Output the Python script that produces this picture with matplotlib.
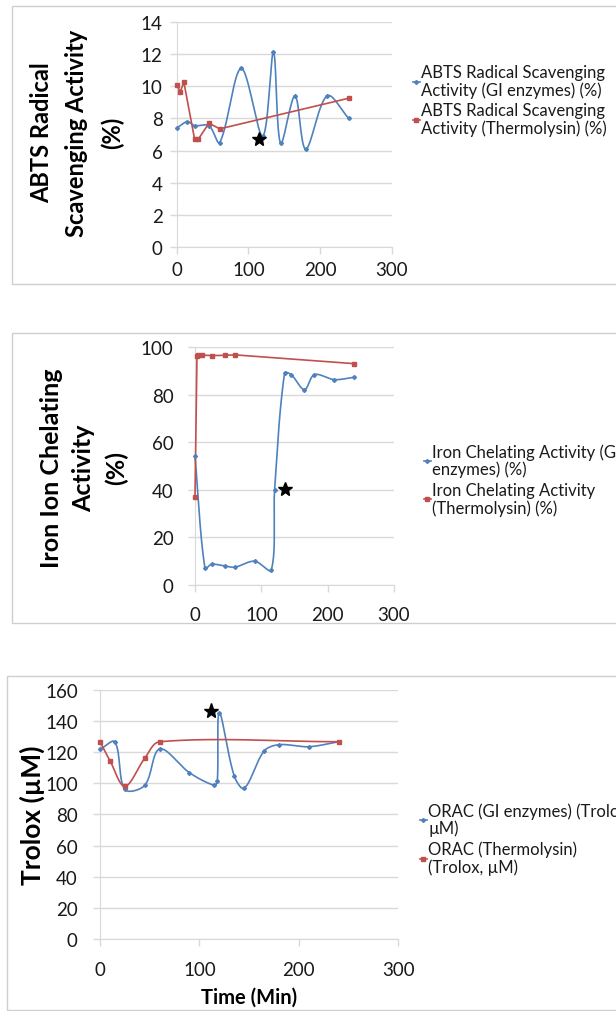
import numpy as np
import matplotlib
matplotlib.use('Agg')
import matplotlib.pyplot as plt
from matplotlib.lines import Line2D
from matplotlib.patches import Rectangle

plt.rcParams['font.family'] = ['Lato', 'DejaVu Sans']

# ---- data ----
abts_gi_t = [0, 15, 25, 45, 60, 90, 120, 135, 145, 165, 180, 210, 240]
abts_gi = [7.4, 7.8, 7.55, 7.55, 6.5, 11.1, 6.9, 12.1, 6.45, 9.4, 6.1, 9.4, 8.0]
abts_th_t = [0, 5, 10, 25, 30, 45, 60, 240]
abts_th = [10.1, 9.65, 10.25, 6.7, 6.7, 7.7, 7.35, 9.25]
abts_star = (115, 6.7)

iron_gi_t = [0, 15, 25, 45, 60, 90, 115, 120, 135, 145, 165, 180, 210, 240]
iron_gi = [54, 7.0, 8.7, 8.0, 7.5, 10.0, 6.3, 40, 89, 88.4, 82.1, 88.4, 86.3, 87.3]
iron_th_t = [0, 3, 5, 10, 25, 45, 60, 240]
iron_th = [37.1, 96.4, 96.5, 96.6, 96.4, 96.5, 96.7, 93.0]
iron_star = (135, 40.5)

orac_gi_t = [0, 15, 25, 45, 60, 90, 115, 118, 120, 135, 145, 165, 180, 210, 240]
orac_gi = [121.7, 126.5, 96.0, 98.6, 122, 106.7, 98.6, 101.4, 145.2, 104.6, 96.7, 120.6, 124.7, 123.4, 126.6]
orac_th_t = [0, 10, 25, 45, 60, 240]
orac_th = [126.6, 114.5, 98, 116, 126.6, 126.6]
orac_star = (112, 146.5)

BLUE = '#4f81bd'
RED = '#c0504d'
GRID = '#d9d9d9'
W, H = 616, 1012

fig = plt.figure(figsize=(W / 100, H / 100), dpi=100)


def px_axes(x0, x1, y_top, y_bot):
    # axes placed by pixel edges of the plot area
    return fig.add_axes([x0 / W, 1 - y_bot / H, (x1 - x0) / W, (y_bot - y_top) / H])


def border(x0, y0, y1):
    fig.patches.append(Rectangle((x0 / W, 1 - y1 / H), (W + 20 - x0) / W, (y1 - y0) / H,
                                 transform=fig.transFigure, fill=False,
                                 edgecolor='#cfcfcf', lw=1.0))


def smooth(ax, x, y, steps=30):
    # smoothed line like Excel's: bezier segments through the points, control
    # points weighted by chord length so short hops don't overshoot
    pts = ax.transData.transform(np.column_stack([x, y]))
    p = np.vstack([pts[0], pts, pts[-1]])
    t = np.linspace(0, 1, steps)[:, None]
    out = []
    for i in range(1, len(p) - 2):
        p0, p1, p2, p3 = p[i - 1], p[i], p[i + 1], p[i + 2]
        d01 = np.hypot(*(p1 - p0))
        d12 = np.hypot(*(p2 - p1))
        d23 = np.hypot(*(p3 - p2))
        c1 = p1 + (p2 - p0) * d12 / (3 * (d01 + d12))
        c2 = p2 - (p3 - p1) * d12 / (3 * (d12 + d23))
        out.append((1 - t) ** 3 * p1 + 3 * (1 - t) ** 2 * t * c1 + 3 * (1 - t) * t ** 2 * c2 + t ** 3 * p2)
    xy = ax.transData.inverted().transform(np.vstack(out))
    return xy[:, 0], xy[:, 1]


def style(ax, ymax, ystep, xpad, ypad):
    ax.set_xlim(0, 300)
    ax.set_ylim(0, ymax)
    ax.set_xticks([0, 100, 200, 300])
    ax.set_yticks(np.arange(0, ymax + 0.1, ystep))
    ax.yaxis.grid(True, color=GRID, lw=1)
    ax.set_axisbelow(True)
    for s in ['top', 'right']:
        ax.spines[s].set_visible(False)
    for s in ['left', 'bottom']:
        ax.spines[s].set_color(GRID)
    ax.tick_params(length=5, width=1, color=GRID, labelsize=13.5, labelcolor='#1a1a1a')
    ax.tick_params(axis='x', pad=xpad)
    ax.tick_params(axis='y', pad=ypad)


def series(ax, x, y, color, marker, ms, smoothed):
    if smoothed:
        sx, sy = smooth(ax, x, y)
    else:
        sx, sy = x, y
    ax.plot(sx, sy, color=color, lw=1.2, clip_on=False, zorder=3)
    ax.plot(x, y, ls='none', marker=marker, ms=ms, color=color, clip_on=False, zorder=4)


def legend(ax, labels, x, y):
    handles = [Line2D([], [], color=BLUE, lw=1.2, marker='D', ms=2),
               Line2D([], [], color=RED, lw=1.2, marker='s', ms=2.5)]
    leg = ax.legend(handles, labels, loc='upper left', bbox_to_anchor=(x / W, 1 - y / H),
                    bbox_transform=fig.transFigure, frameon=False, fontsize=12,
                    handlelength=0.4, handletextpad=0.1, borderpad=0, borderaxespad=0,
                    labelspacing=0.25)
    for t in leg.get_texts():
        t.set_linespacing(1.1)
        t.set_color('#1a1a1a')


# ---- panel 1: ABTS ----
border(11.7, 7.3, 285)
ax1 = px_axes(176.7, 391.7, 22.7, 248.3)
style(ax1, 14, 2, 5, 5)
series(ax1, abts_gi_t, abts_gi, BLUE, 'D', 2, True)
series(ax1, abts_th_t, abts_th, RED, 's', 2.5, False)
ax1.plot(*abts_star, marker='*', ms=10, color='black', zorder=5)
fig.text(77 / W, 1 - 133 / H, 'ABTS Radical\nScavenging Activity\n(%)', rotation=90,
         ha='center', va='center', multialignment='center', fontsize=17,
         fontweight='bold', linespacing=1.62)
legend(ax1, ['ABTS Radical Scavenging\nActivity (GI enzymes) (%)',
             'ABTS Radical Scavenging\nActivity (Thermolysin) (%)'], 413, 65)

# ---- panel 2: iron chelating ----
border(11.7, 334.3, 624)
ax2 = px_axes(195, 394, 348, 586)
style(ax2, 100, 20, 10, 10.5)
series(ax2, iron_gi_t, iron_gi, BLUE, 'D', 2, True)
series(ax2, iron_th_t, iron_th, RED, 's', 2.5, False)
ax2.plot(*iron_star, marker='*', ms=10, color='black', zorder=5)
fig.text(84 / W, 1 - 468 / H, 'Iron Ion Chelating\nActivity\n(%)', rotation=90,
         ha='center', va='center', multialignment='center', fontsize=18,
         fontweight='bold', linespacing=1.48)
legend(ax2, ['Iron Chelating Activity (GI\nenzymes) (%)',
             'Iron Chelating Activity\n(Thermolysin) (%)'], 424, 444)

# ---- panel 3: ORAC ----
border(7.3, 676.7, 1010.7)
ax3 = px_axes(100, 398.3, 690.7, 940)
style(ax3, 160, 20, 11, 11)
series(ax3, orac_gi_t, orac_gi, BLUE, 'D', 2, True)
series(ax3, orac_th_t, orac_th, RED, 's', 2.5, True)
ax3.plot(*orac_star, marker='*', ms=11, color='black', zorder=5)
ax3.set_ylabel('Trolox (µM)', fontsize=19, fontweight='bold', labelpad=0)
ax3.set_xlabel('Time (Min)', fontsize=14.5, fontweight='bold', labelpad=6)
legend(ax3, ['ORAC (GI enzymes) (Trolox,\nµM)', 'ORAC (Thermolysin)\n(Trolox, µM)'], 420, 803)

fig.savefig('out.png', dpi=100)
